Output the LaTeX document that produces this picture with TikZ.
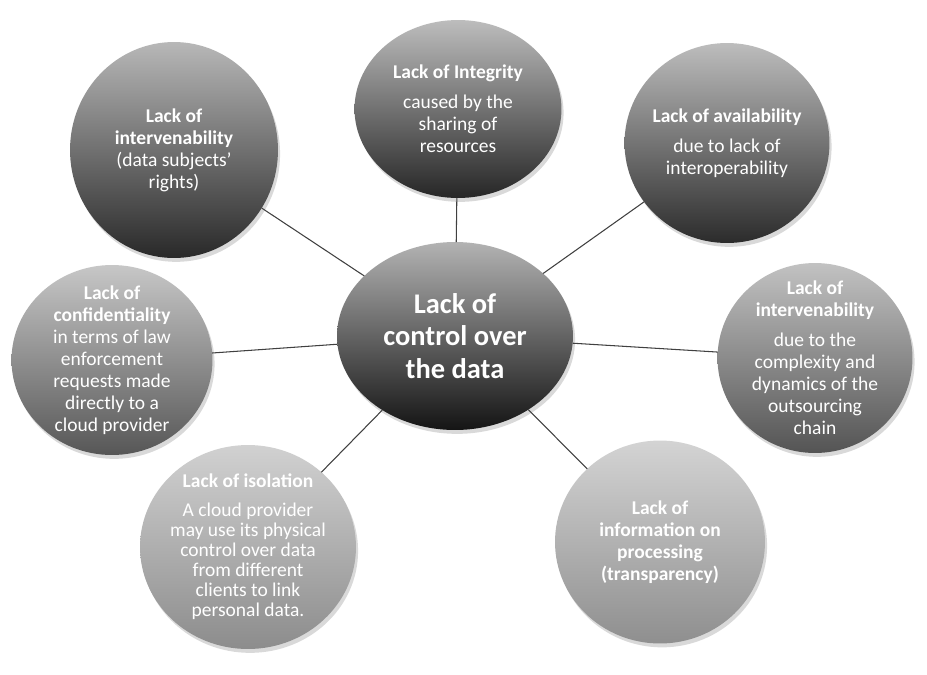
\documentclass[tikz,border=0pt]{standalone}
\usepackage{fontspec}
\setmainfont{Carlito}
\usetikzlibrary{shapes.geometric,shadows}
\tikzset{
	bubble/.style={ellipse, inner sep=-20pt, outer sep=0pt, text=white, align=center,
		font=\fontsize{11.1}{12.5}\selectfont,
		drop shadow={shadow xshift=1.2pt, shadow yshift=-2.2pt, opacity=0.15, fill=black}},
	spoke/.style={line width=0.6pt, color=black!75},
}

\begin{document}
\begin{tikzpicture}[x=0.02cm, y=-0.02cm]
			%%%%% START %%%%%
			\useasboundingbox (0,0) rectangle (927,674);
			\fill[white] (0,0) rectangle (927,674);
			
			\node[bubble, minimum width=4.72cm, minimum height=3.76cm, top color=black!30, bottom color=black!92,
				font=\fontsize{16.2}{18.6}\selectfont\bfseries] (hub) at (455,336) {Lack of\\control over\\the data};
			
			\node[bubble, minimum width=4.14cm, minimum height=3.56cm, top color=black!26, bottom color=black!85]
				(integ) at (458,109) {\textbf{Lack of Integrity}\\[4.5pt]caused by the\\sharing of\\resources};
			\node[bubble, minimum width=4.16cm, minimum height=4.32cm, top color=black!28, bottom color=black!84]
				(rights) at (174,150) {\textbf{Lack of}\\\textbf{intervenability}\\(data subjects’\\rights)};
			\node[bubble, minimum width=4.10cm, minimum height=4.00cm, top color=black!26, bottom color=black!83]
				(avail) at (727,143) {\textbf{Lack of availability}\\[4.5pt]due to lack of\\interoperability};
			\node[bubble, minimum width=4.02cm, minimum height=3.80cm, top color=black!22, bottom color=black!66]
				(conf) at (112,360) {\textbf{Lack of}\\\textbf{confidentiality}\\in terms of law\\enforcement\\requests made\\directly to a\\cloud provider};
			\node[bubble, minimum width=3.90cm, minimum height=3.80cm, top color=black!24, bottom color=black!67]
				(chain) at (815,358) {\textbf{Lack of}\\\textbf{intervenability}\\[4.5pt]due to the\\complexity and\\dynamics of the\\outsourcing\\chain};
			\node[bubble, minimum width=4.32cm, minimum height=4.08cm, top color=black!18, bottom color=black!45,
				font=\fontsize{11.1}{11.4}\selectfont]
				(isol) at (248,547) {\textbf{Lack of isolation}\\[5pt]A cloud provider\\may use its physical\\control over data\\from different\\clients to link\\personal data.};
			\node[bubble, minimum width=4.20cm, minimum height=4.06cm, top color=black!17, bottom color=black!44,
				font=\fontsize{11.1}{12.5}\selectfont\bfseries] (info) at (660,542) {Lack of\\information on\\processing\\(transparency)};
			
			\draw[spoke] (hub) -- (integ);
			\draw[spoke] (hub) -- (rights);
			\draw[spoke] (hub) -- (avail);
			\draw[spoke] (hub) -- (conf);
			\draw[spoke] (hub) -- (chain);
			\draw[spoke] (hub) -- (isol);
			\draw[spoke] (hub) -- (info);
			
			%%%%% END %%%%%
\end{tikzpicture}
\end{document}
